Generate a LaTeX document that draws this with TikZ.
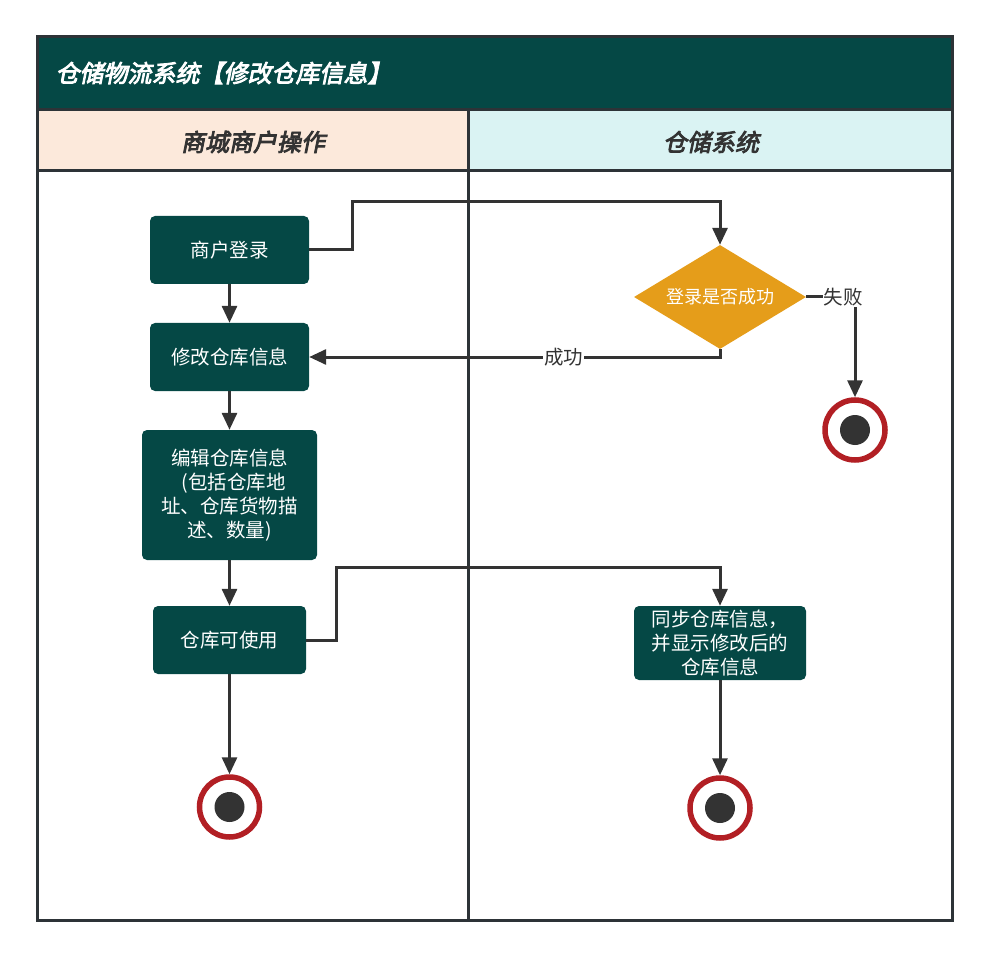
\documentclass[tikz,border=0pt]{standalone}
\usepackage{fontspec}
\usepackage{tikz}
\usetikzlibrary{shapes.geometric,arrows.meta}
\newfontfamily\cjk{Noto Sans CJK SC}
\newfontfamily\cjkhead[FakeBold=3.5,FakeSlant=0.2]{Noto Sans CJK SC}
\definecolor{boxgreen}{RGB}{5,72,69}
\definecolor{askorange}{RGB}{229,157,26}
\definecolor{linegray}{RGB}{51,51,51}
\definecolor{framegray}{RGB}{45,51,55}
\definecolor{ringred}{RGB}{178,31,36}
\definecolor{peach}{RGB}{252,233,219}
\definecolor{icecyan}{RGB}{218,243,243}
\begin{document}
\begin{tikzpicture}[x=1pt,y=-1pt,
box/.style={rectangle, rounded corners=5pt, fill=boxgreen, text=white, align=center, inner sep=0pt, font=\cjk\fontsize{19.5}{24}\selectfont},
ask/.style={diamond, aspect=2, fill=askorange, text=white, inner sep=0pt, minimum width=172pt, minimum height=104pt, font=\cjk\fontsize{18}{20}\selectfont},
finish/.style={circle, draw=ringred, line width=5.5pt, fill=white, minimum size=60pt, inner sep=0pt},
flow/.style={draw=linegray, line width=3pt, -{Triangle[length=17pt,width=15pt]}},
lbl/.style={fill=white, text=linegray, inner sep=1pt, font=\cjk\fontsize{19.5}{20}\selectfont},
head/.style={font=\cjkhead\fontsize{24}{28}\selectfont}]
\useasboundingbox (0,0) rectangle (990,957);
% frame
\fill[boxgreen] (37,37) rectangle (952,110);
\fill[peach] (37,110) rectangle (468,171);
\fill[icecyan] (468,110) rectangle (952,171);
\draw[framegray, line width=3pt] (37,37) rectangle (952,920);
\draw[framegray, line width=3pt] (37,110)--(952,110);
\draw[framegray, line width=3pt] (37,171)--(952,171);
\draw[framegray, line width=3pt] (468,110)--(468,920);
\node[head, text=white, anchor=west] (title) at (52,73) {仓储物流系统【修改仓库信息】};
\node[head, text=linegray] (laneA) at (253,142) {商城商户操作};
\node[head, text=linegray] (laneB) at (711,142) {仓储系统};
% nodes
\node[box, minimum width=159pt, minimum height=68pt] (login) at (229.5,250) {商户登录};
\node[box, minimum width=159pt, minimum height=68pt] (modify) at (229.5,357) {修改仓库信息};
\node[box, minimum width=175pt, minimum height=130pt] (edit) at (229.5,495) {编辑仓库信息\\\hspace*{8pt}(包括仓库地\\址、仓库货物描\\述、数量)};
\node[box, minimum width=153pt, minimum height=68pt] (usable) at (229.5,640) {仓库可使用};
\node[finish] (endA) at (229.5,807) {};
\node[ask] (check) at (720,297) {登录是否成功};
\node[finish] (endB) at (855,430) {};
\node[box, minimum width=172pt, minimum height=74pt] (sync) at (720,643) {同步仓库信息，\\并显示修改后的\\仓库信息};
\node[finish] (endC) at (720,808) {};
\foreach \e in {endA,endB,endC}
\fill[linegray] (\e) circle[radius=15pt];
% connectors
\draw[flow] (login.east) -- ++(43,0) -- ++(0,-48) -| (check.north);
\draw[flow] (check.south) |- (modify.east) node[lbl, pos=0.69] {成功};
\draw[flow] (check.east) -| (endB.north) node[lbl, pos=0.38] {失败};
\draw[flow] (login) -- (modify);
\draw[flow] (modify) -- (edit);
\draw[flow] (edit) -- (usable);
\draw[flow] (usable) -- (endA);
\draw[flow] (usable.east) -- ++(30,0) -- ++(0,-73) -| (sync.north);
\draw[flow] (sync) -- (endC);
\end{tikzpicture}
\end{document}
